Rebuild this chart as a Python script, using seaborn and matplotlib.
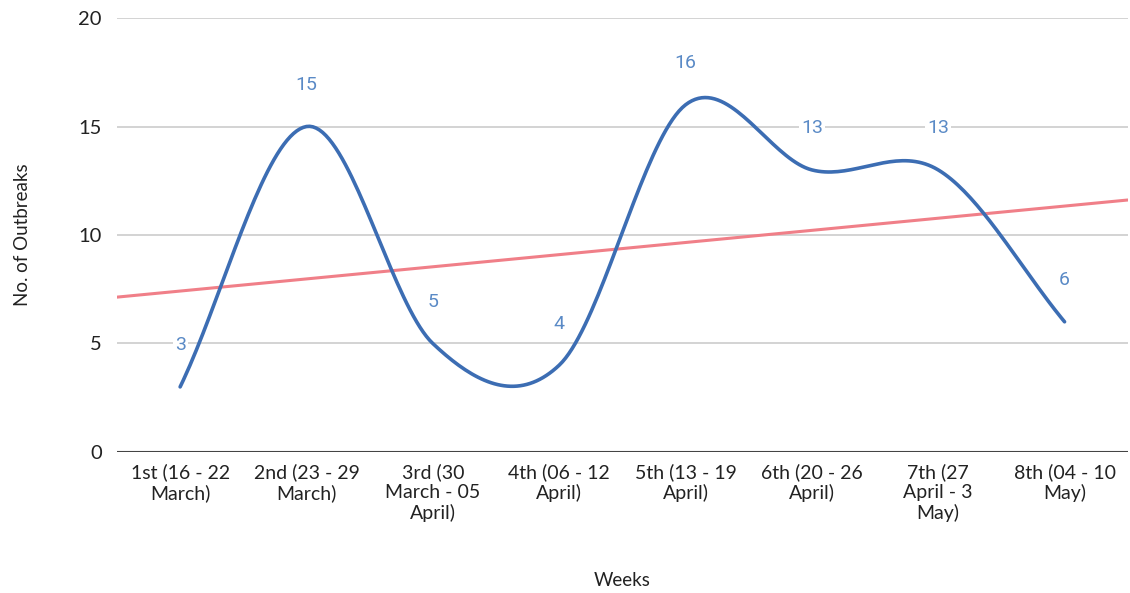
import numpy as np
import pandas as pd
import matplotlib
matplotlib.use('Agg')
import matplotlib.pyplot as plt
import seaborn as sns

# Datos
weeks = ['1st (16 - 22\nMarch)', '2nd (23 - 29\nMarch)', '3rd (30\nMarch - 05\nApril)',
         '4th (06 - 12\nApril)', '5th (13 - 19\nApril)', '6th (20 - 26\nApril)',
         '7th (27\nApril - 3\nMay)', '8th (04 - 10\nMay)']
outbreaks = [3, 15, 5, 4, 16, 13, 13, 6]
y_ticks = [0, 5, 10, 15, 20]

line_color = '#3c6db3'
label_color = '#5a8ac6'
trend_color = '#f07f88'

sns.set_style('white')
plt.rcParams['font.family'] = ['Lato', 'DejaVu Sans']

x = np.arange(len(outbreaks))
y = np.array(outbreaks, dtype=float)

# Curva suavizada (Catmull-Rom) solo para dibujar la linea
def smooth_curve(x, y, n=40):
    m = np.zeros_like(y)
    m[1:-1] = (y[2:] - y[:-2]) / 2
    m[0] = y[1] - y[0]
    m[-1] = y[-1] - y[-2]
    xs, ys = [], []
    for i in range(len(y) - 1):
        t = np.linspace(0, 1, n)
        h00 = 2 * t**3 - 3 * t**2 + 1
        h10 = t**3 - 2 * t**2 + t
        h01 = -2 * t**3 + 3 * t**2
        h11 = t**3 - t**2
        xs.append(x[i] + t)
        ys.append(h00 * y[i] + h10 * m[i] + h01 * y[i + 1] + h11 * m[i + 1])
    return np.concatenate(xs), np.concatenate(ys)

sx, sy = smooth_curve(x, y)
curve = pd.DataFrame({'x': sx, 'y': sy})
df = pd.DataFrame({'x': x, 'y': y})

fig = plt.figure(figsize=(11.3, 5.93), dpi=100)
ax = fig.add_axes([0.1035, 0.2378, 0.8945, 0.7318])
ax.set_xlim(-0.5, len(weeks) - 0.5)
ax.set_ylim(0, 20)

# Lineas de cuadricula
for t in y_ticks[1:]:
    ax.axhline(t, color='#cccccc', lw=1.2, zorder=0)
ax.axhline(0, color='#444444', lw=1.5, zorder=1)

# Linea de tendencia
sns.regplot(data=df, x='x', y='y', scatter=False, ci=None, truncate=False, ax=ax,
            line_kws={'color': trend_color, 'lw': 2.2, 'zorder': 2})

# Serie principal
sns.lineplot(data=curve, x='x', y='y', ax=ax, color=line_color, lw=2.6, sort=False,
             zorder=3)

# Etiquetas de datos
for xi, yi in zip(x, outbreaks):
    ax.annotate(str(yi), (xi, yi), xytext=(0, 30), textcoords='offset points',
                ha='center', va='center', fontsize=14, color=label_color,
                family=['Roboto', 'DejaVu Sans'],
                bbox=dict(boxstyle='square,pad=0.1', fc='white', ec='none'), zorder=4)

ax.set_xlim(-0.5, len(weeks) - 0.5)
ax.set_xticks(x)
ax.set_xticklabels(weeks, fontsize=14, linespacing=1.2, color='#222222')
ax.set_yticks(y_ticks)
ax.set_yticklabels([str(t) for t in y_ticks], fontsize=14.5, color='#222222')
ax.tick_params(axis='both', length=0)
ax.tick_params(axis='x', pad=8)
ax.tick_params(axis='y', pad=11)
sns.despine(ax=ax, left=True, bottom=True, top=True, right=True)

ax.set_xlabel('Weeks', fontsize=13.5, color='#222222', labelpad=36)
ax.set_ylabel('No. of Outbreaks', fontsize=13.5, color='#222222', labelpad=34)

plt.savefig('out.png', dpi=100)
